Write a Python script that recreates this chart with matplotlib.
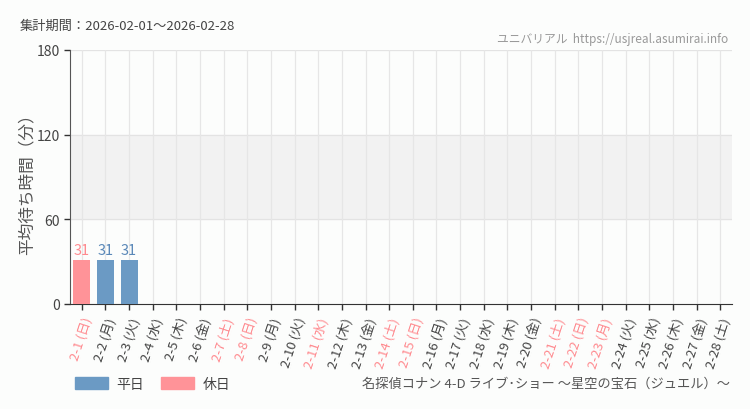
import matplotlib.pyplot as plt
from matplotlib.patches import Patch

plt.rcParams['font.family'] = ['Noto Sans CJK JP', 'DejaVu Sans']

# data
days = ['2-%d' % d for d in range(1, 29)]
weekdays = ['日', '月', '火', '水', '木', '金', '土'] * 4
holidays = [1, 7, 8, 11, 14, 15, 21, 22, 23]
waits = [31, 31, 31] + [None] * 25
y_ticks = [0, 60, 120, 180]

BLUE = '#6b9ac4'
PINK = '#ff9398'
RED_TXT = '#ff8a8f'
DARK = '#444444'

fig = plt.figure(figsize=(7.5, 4.1), dpi=100, facecolor='#fcfdfc')
ax = fig.add_axes([70 / 750, 1 - 305 / 410, 662 / 750, 254 / 410])
ax.set_facecolor('#fcfdfc')

n = len(days)
ax.set_xlim(-0.5, n - 0.5)
ax.set_ylim(0, 180)

# shaded band 60-120
ax.axhspan(60, 120, color='#f2f2f2', zorder=0)
for y in [60, 120, 180]:
    ax.axhline(y, color='#e3e3e3', lw=0.9, zorder=1)
for i in range(n):
    ax.axvline(i, color='#e6e6e6', lw=0.9, zorder=1)

for i, v in enumerate(waits):
    if v is None:
        continue
    hol = (i + 1) in holidays
    col = PINK if hol else BLUE
    ax.bar(i, v, width=0.72, color=col, zorder=3)
    ax.text(i, v + 2, str(v), ha='center', va='bottom', fontsize=10.5,
            color=RED_TXT if hol else '#5a88b8', zorder=4, stretch='condensed')

ax.set_xticks(range(n))
labels = ['%s (%s)' % (d, w) for d, w in zip(days, weekdays)]
ax.set_xticklabels(labels, rotation=72, ha='right', rotation_mode='anchor', fontsize=9.5)
for i, t in enumerate(ax.get_xticklabels()):
    t.set_color(RED_TXT if (i + 1) in holidays else DARK)

ax.set_yticks(y_ticks)
ax.set_yticklabels([str(t) for t in y_ticks], fontsize=10, color=DARK)
ax.tick_params(axis='both', length=4, color='#333333', width=1)
ax.tick_params(axis='x', pad=4)

for s in ['top', 'right']:
    ax.spines[s].set_visible(False)
ax.spines['left'].set_color('#555555')
ax.spines['bottom'].set_color('#333333')

ax.set_ylabel('平均待ち時間（分）', fontsize=12, color='#555555', va='center')
ax.yaxis.set_label_coords((27 - 70) / 662, 0.49)

fig.text(20 / 750, 1 - 26 / 410, '集計期間：2026-02-01～2026-02-28', fontsize=9.5,
         color=DARK, va='center')
fig.text(728 / 750, 1 - 40 / 410, 'ユニバリアル  https://usjreal.asumirai.info', fontsize=8.5,
         color='#999999', ha='right', va='center', stretch='condensed')
fig.text(730 / 750, 1 - 384 / 410, '名探偵コナン 4-D ライブ･ショー ～星空の宝石（ジュエル）～',
         fontsize=9.5, color='#555555', ha='right', va='center')

handles = [Patch(color=BLUE), Patch(color=PINK)]
fig.legend(handles, ['平日', '休日'], loc='center left', bbox_to_anchor=(62 / 750, 1 - 385 / 410),
           ncol=2, frameon=False, fontsize=10, handlelength=2.4, handleheight=0.9,
           columnspacing=1.2, handletextpad=0.6, labelcolor='#444444')

fig.savefig('out.png', dpi=100, facecolor=fig.get_facecolor())
